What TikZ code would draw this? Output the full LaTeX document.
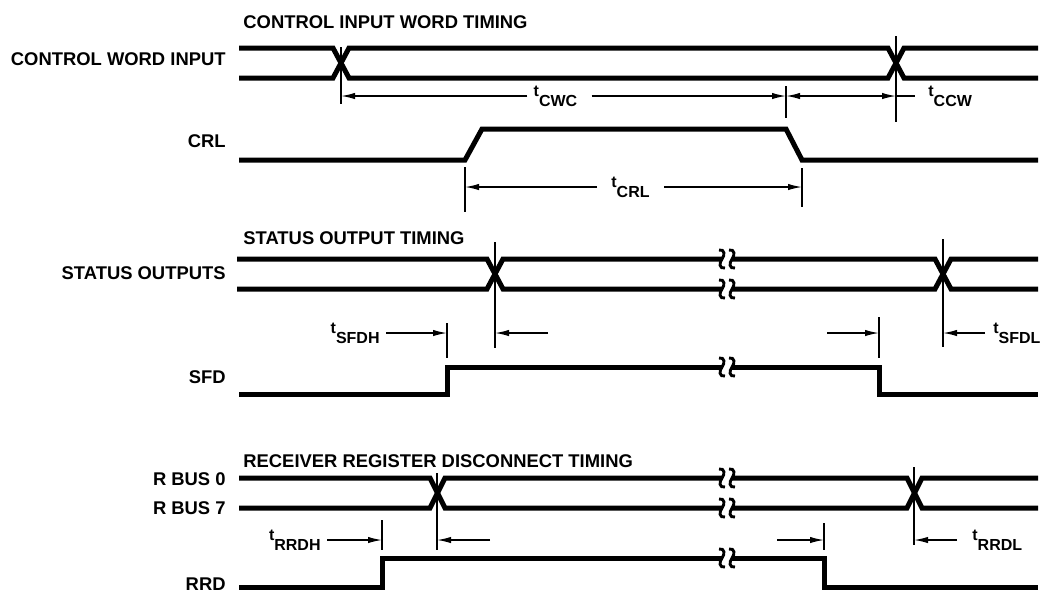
\documentclass[tikz,border=0pt]{standalone}
\usepackage{fontspec}
\setmainfont{Liberation Sans}
\usetikzlibrary{arrows.meta}
\newcommand{\tsub}[1]{t\raisebox{-5pt}{#1}}

\begin{document}
\begin{tikzpicture}[x=0.5pt,y=-0.5pt,
	wave/.style={line width=2.5pt},
	vline/.style={line width=0.7pt},
	dim/.style={line width=0.7pt,-{Latex[length=7pt,width=3.2pt]}},
	dimboth/.style={line width=0.7pt,{Latex[length=7pt,width=3.2pt]}-{Latex[length=7pt,width=3.2pt]}},
	sig/.style={font=\fontsize{9.2}{11}\selectfont\bfseries,anchor=base east,inner sep=0pt},
	ttl/.style={font=\fontsize{9.2}{11}\selectfont\bfseries,anchor=base west,inner sep=0pt},
	tlab/.style={font=\fontsize{8}{9}\selectfont\bfseries,inner xsep=3pt,inner ysep=0pt},
	brkmark/.pic={
		\fill[white] (-5,-3.2) rectangle (5,3.2);
		\draw[line width=1.45pt] (-8,-9) .. controls (-2,-10) and (-2,-4) .. (-5,0) .. controls (-8,4) and (-8,10) .. (-2,9);
		\draw[line width=1.45pt] (2,-9) .. controls (8,-10) and (8,-4) .. (5,0) .. controls (2,4) and (2,10) .. (8,9);
	}]
	\useasboundingbox (0,0) rectangle (1043,591);

	\node[ttl] (ttl1) at (243,28)  {CONTROL INPUT WORD TIMING};
	\node[ttl] (ttl2) at (243,244) {STATUS OUTPUT TIMING};
	\node[ttl] (ttl3) at (243,467) {RECEIVER REGISTER DISCONNECT TIMING};

	\node[sig] (cwi)   at (226,65.7) {CONTROL WORD INPUT};
	\node[sig] (crl)   at (226,147)  {CRL};
	\node[sig] (stat)  at (226,279)  {STATUS OUTPUTS};
	\node[sig] (sfd)   at (226,383)  {SFD};
	\node[sig] (rbus0) at (226,485)  {R BUS 0};
	\node[sig] (rbus7) at (226,514)  {R BUS 7};
	\node[sig] (rrd)   at (226,590)  {RRD};

	\draw[wave] (239,48) -- (333,48) -- (349,78) -- (888,78) -- (904,48) -- (1038,48);
	\draw[wave] (239,78) -- (333,78) -- (349,48) -- (888,48) -- (904,78) -- (1038,78);
	\draw[wave] (239,160) -- (465,160) -- (482,129) -- (786,129) -- (802,160) -- (1038,160);

	\draw[wave] (237,259) -- (487,259) -- (503,289) -- (935,289) -- (951,259) -- (1038,259);
	\draw[wave] (237,289) -- (487,289) -- (503,259) -- (935,259) -- (951,289) -- (1038,289);
	\draw[wave] (239,394) -- (447,394) -- (447,367) -- (879,367) -- (879,394) -- (1038,394);

	\draw[wave] (239,478) -- (430,478) -- (445,508) -- (907,508) -- (922,478) -- (1038,478);
	\draw[wave] (239,508) -- (430,508) -- (445,478) -- (907,478) -- (922,508) -- (1038,508);
	\draw[wave] (239,587) -- (382,587) -- (382,558) -- (824,558) -- (824,587) -- (1038,587);

	\foreach \y in {259,289,367,478,508,558}
		\pic at (727,\y) {brkmark};

	\coordinate (cw1t) at (341,47);  \coordinate (cw1b) at (341,104);
	\coordinate (cw2t) at (896,36);  \coordinate (cw2b) at (896,122);
	\coordinate (cw3t) at (786,86);  \coordinate (cw3b) at (786,118);
	\coordinate (cr1t) at (465,167); \coordinate (cr1b) at (465,212);
	\coordinate (cr2t) at (802,168); \coordinate (cr2b) at (802,207);

	\coordinate (st1t) at (495,242); \coordinate (st1b) at (495,348);
	\coordinate (st2t) at (943,239); \coordinate (st2b) at (943,347);
	\coordinate (sf1t) at (447,323); \coordinate (sf1b) at (447,358);
	\coordinate (sf2t) at (879,317); \coordinate (sf2b) at (879,358);

	\coordinate (rb1t) at (437,473); \coordinate (rb1b) at (437,550);
	\coordinate (rb2t) at (914,467); \coordinate (rb2b) at (914,545);
	\coordinate (rr1t) at (382,520); \coordinate (rr1b) at (382,550);
	\coordinate (rr2t) at (824,523); \coordinate (rr2b) at (824,550);

	\foreach \m in {cw1,cw2,cw3,cr1,cr2,st1,st2,sf1,sf2,rb1,rb2,rr1,rr2}
		\draw[vline] (\m t) -- (\m b);

	\node[tlab] (tcwc) at (555.5,96) {\tsub{CWC}};
	\node[tlab,anchor=west] (tccw) at (922,96) {\tsub{CCW}};
	\node[tlab] (tcrl) at (630.5,187) {\tsub{CRL}};

	\draw[dim] (tcwc.west) -- (cw1b |- tcwc);
	\draw[dim] ([xshift=4pt]tcwc.east) -- (cw3b |- tcwc);
	\draw[dimboth] (cw3b |- tcwc) -- (cw2b |- tcwc);
	\draw[vline] (cw2b |- tcwc) -- ([xshift=-3.5pt]tccw.west);
	\draw[dim] ([xshift=-4pt]tcrl.west) -- (cr1b |- tcrl);
	\draw[dim] ([xshift=4pt]tcrl.east) -- (cr2b |- tcrl);

	\node[tlab,anchor=east] (tsfdh) at (386,333) {\tsub{SFDH}};
	\node[tlab,anchor=west] (tsfdl) at (987,333) {\tsub{SFDL}};
	\coordinate (sfa) at (548,333);
	\coordinate (sfb) at (827,333);

	\draw[dim] (tsfdh.east) -- (sf1b |- tsfdh);
	\draw[dim] (sfa) -- (st1b |- sfa);
	\draw[dim] (sfb) -- (sf2b |- sfb);
	\draw[dim] ([xshift=-1pt]tsfdl.west) -- (st2b |- tsfdl);

	\node[tlab,anchor=east] (trrdh) at (327,540) {\tsub{RRDH}};
	\node[tlab,anchor=west] (trrdl) at (966,540) {\tsub{RRDL}};
	\coordinate (rra) at (490,540);
	\coordinate (rrb) at (777,540);

	\draw[dim] (trrdh.east) -- (rr1b |- trrdh);
	\draw[dim] (rra) -- (rb1b |- rra);
	\draw[dim] (rrb) -- (rr2b |- rrb);
	\draw[dim] ([xshift=-4.5pt]trrdl.west) -- (rb2b |- trrdl);

\end{tikzpicture}
\end{document}
